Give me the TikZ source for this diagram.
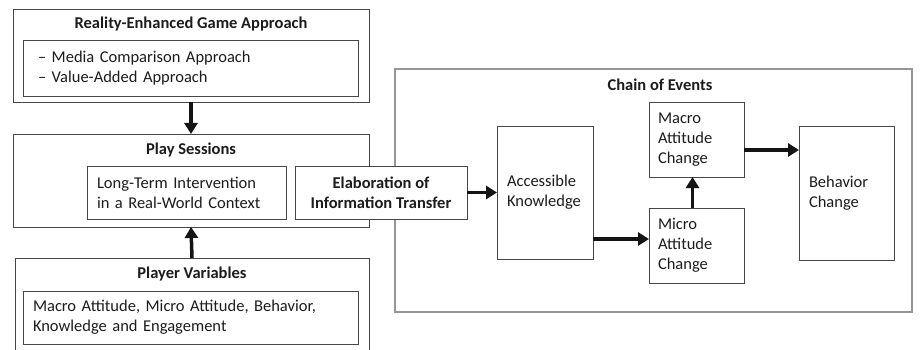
\documentclass[tikz,border=0pt]{standalone}
\usepackage{fontspec}
\setmainfont{Carlito}
\usetikzlibrary{arrows.meta}
\definecolor{edge}{RGB}{70,70,70}
\definecolor{pale}{RGB}{150,150,150}
\definecolor{ink}{RGB}{28,28,28}
\begin{document}
\begin{tikzpicture}[x=1pt,y=-1pt,
  every node/.style={font=\fontsize{16.5}{20}\selectfont, text=ink},
  box/.style={draw=edge, line width=0.9pt, fill=white, rectangle, inner sep=0pt, outer sep=0pt},
  frame/.style={box, draw=pale, line width=1.1pt},
  heading/.style={font=\fontsize{16.5}{20}\selectfont\bfseries, inner sep=0pt},
  arr/.style={line width=3.5pt, draw=black!92, -{Triangle[length=11pt,width=13pt]}}
]
\useasboundingbox (0,0) rectangle (924,350);
\clip (0,0) rectangle (924,350);

% outer groups
\node[box, minimum width=356, minimum height=93] (rea) at (191,55.5) {};
\node[box, minimum width=356, minimum height=93] (play) at (191,180.5) {};
\node[box, minimum width=354, minimum height=122] (pv) at (192,319) {};
\node[frame, minimum width=517, minimum height=243] (chain) at (653.5,190.5) {};

% group headings
\node[heading] (reaT) at (191,24) {Reality-Enhanced Game Approach};
\node[heading] (playT) at (191,150) {Play Sessions};
\node[heading] (pvT) at (192,274) {Player Variables};
\node[heading] (chainT) at (660,85) {Chain of Events};

% inner boxes
\node[box, minimum width=335, minimum height=56, text width=305, align=left] (reaIn) at (190.5,68)
  {– Media Comparison Approach\\– Value-Added Approach};
\node[box, minimum width=199, minimum height=53, text width=179, align=left] (lti) at (186.5,192.5)
  {Long-Term Intervention\\in a Real-World Context};
\node[box, minimum width=172, minimum height=53, align=center, font=\fontsize{16.5}{20}\selectfont\bfseries] (elab) at (381,192.5)
  {Elaboration of\\Information Transfer};
\node[box, minimum width=335, minimum height=53, text width=315, align=left] (pvIn) at (190.5,317.5)
  {Macro Attitude, Micro Attitude, Behavior,\\Knowledge and Engagement};

% chain of events
\node[box, minimum width=96, minimum height=133, text width=76, align=left] (ak) at (545,192.5)
  {Accessible\\Knowledge};
\node[box, minimum width=95, minimum height=75, text width=77, align=left] (macro) at (696.5,139.5)
  {Macro\\Attitude\\Change};
\node[box, minimum width=95, minimum height=75, text width=77, align=left] (micro) at (696.5,245.5)
  {Micro\\Attitude\\Change};
\node[box, minimum width=95, minimum height=134, text width=75, align=left] (beh) at (846.5,193)
  {Behavior\\Change};

% connectors
\draw[arr] (rea.south) -- (play.north);
\draw[arr] (pv.north) -- (play.south);
\draw[arr] (elab.east) -- (elab.east -| ak.west);
\coordinate (akOut) at ([yshift=-46.5pt]ak.east);
\draw[arr] (akOut) -- (akOut -| micro.west);
\draw[arr] ([xshift=-4pt]micro.north) -- ([xshift=-4pt]macro.south);
\coordinate (maOut) at ([yshift=-10.5pt]macro.east);
\draw[arr] (maOut) -- (maOut -| beh.west);
\end{tikzpicture}
\end{document}
